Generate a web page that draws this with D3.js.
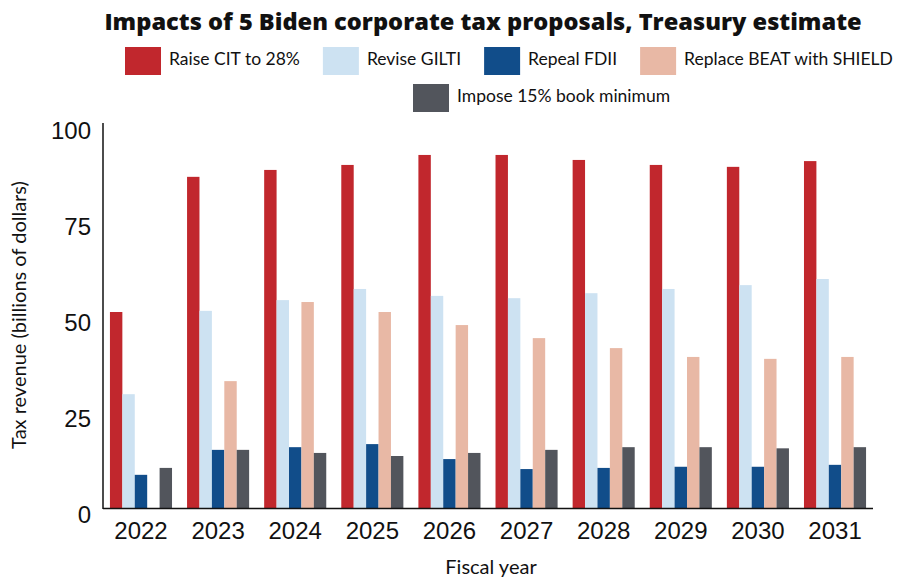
<!DOCTYPE html>
<html>
<head>
<meta charset="utf-8">
<script src="https://cdn.jsdelivr.net/npm/d3@7"></script>
<style>
  body { margin: 0; background: #fff; }
  svg { display: block; font-family: Lato, "Open Sans", sans-serif; }
</style>
</head>
<body>
<svg width="899" height="579"></svg>
<script>
const years = ['2022', '2023', '2024', '2025', '2026', '2027', '2028', '2029', '2030', '2031'];
const seriesNames = ['Raise CIT to 28%', 'Revise GILTI', 'Repeal FDII', 'Replace BEAT with SHIELD', 'Impose 15% book minimum'];
const seriesColors = ['#c1272d', '#cde2f2', '#114d8a', '#e8b8a5', '#52555c'];
const raiseCit = [51.3, 86.5, 88.3, 89.6, 92.2, 92.2, 90.9, 89.6, 89.1, 90.6];
const reviseGilti = [29.9, 51.6, 54.4, 57.3, 55.5, 54.9, 56.2, 57.3, 58.3, 59.9];
const repealFdii = [8.9, 15.4, 16.1, 16.9, 13.0, 10.4, 10.7, 11.0, 11.0, 11.5];
const replaceBeat = [0, 33.3, 53.9, 51.3, 47.9, 44.5, 41.9, 39.6, 39.1, 39.6];
const bookMin = [10.7, 15.4, 14.6, 13.8, 14.6, 15.4, 16.1, 16.1, 15.8, 16.1];
const yTicks = [0, 25, 50, 75, 100];

const seriesValues = [raiseCit, reviseGilti, repealFdii, replaceBeat, bookMin];
const rows = years.map((yr, i) => ({ year: yr, values: seriesValues.map((s, k) => ({ k, v: s[i] })) }));

const svg = d3.select('svg');

const x = d3.scaleBand()
  .domain(years)
  .range([103, 873])
  .paddingInner(0.195)
  .paddingOuter(0.09);
const x1 = d3.scaleBand()
  .domain(d3.range(seriesNames.length))
  .range([0, x.bandwidth()]);
const y = d3.scaleLinear()
  .domain([0, 100])
  .range([509, 125]);

// title
svg.append('text')
  .attr('x', 483)
  .attr('y', 30)
  .attr('text-anchor', 'middle')
  .attr('font-family', '"Open Sans", sans-serif')
  .attr('font-weight', 800)
  .attr('font-size', 23.6)
  .attr('fill', '#111')
  .text('Impacts of 5 Biden corporate tax proposals, Treasury estimate');

// bars
svg.append('g')
  .selectAll('g')
  .data(rows)
  .join('g')
  .attr('transform', d => `translate(${x(d.year)},0)`)
  .selectAll('rect')
  .data(d => d.values)
  .join('rect')
  .attr('x', d => x1(d.k))
  .attr('width', x1.bandwidth())
  .attr('y', d => y(d.v))
  .attr('height', d => y(0) - y(d.v))
  .attr('fill', d => seriesColors[d.k]);

// axes
const yAxis = svg.append('g')
  .attr('transform', 'translate(103,0)')
  .call(d3.axisLeft(y).tickValues(yTicks).tickSize(0).tickPadding(12));
yAxis.select('.domain').attr('d', `M0,${y(100) - 2}V${y(0)}`).attr('stroke', '#111').attr('stroke-width', 1.5);
yAxis.selectAll('text')
  .attr('font-size', 24)
  .attr('dy', '0.55em')
  .attr('fill', '#111');

const xAxis = svg.append('g')
  .attr('transform', `translate(0,${y(0) - 0.5})`)
  .call(d3.axisBottom(x).tickSize(0).tickPadding(13));
xAxis.select('.domain').attr('d', `M103,0H873`).attr('stroke', '#111').attr('stroke-width', 1.5);
xAxis.selectAll('text')
  .attr('font-size', 24)
  .attr('fill', '#111');

// axis titles
svg.append('text')
  .attr('transform', 'translate(26,315) rotate(-90)')
  .attr('text-anchor', 'middle')
  .attr('font-size', 20)
  .attr('fill', '#111')
  .text('Tax revenue (billions of dollars)');
svg.append('text')
  .attr('x', 491)
  .attr('y', 574)
  .attr('text-anchor', 'middle')
  .attr('font-size', 20)
  .attr('fill', '#111')
  .text('Fiscal year');

// legend: four items on the first row, the last one below
const legend = svg.append('g');
const rowStarts = [125, 413];
const rowTops = [47, 84];
let cx = rowStarts[0];
seriesNames.forEach((name, k) => {
  const row = k < 4 ? 0 : 1;
  if (k === 4) cx = rowStarts[1];
  const item = legend.append('g').attr('transform', `translate(${cx},${rowTops[row]})`);
  item.append('rect')
    .attr('width', 36)
    .attr('height', 28)
    .attr('fill', seriesColors[k]);
  const t = item.append('text')
    .attr('x', 44)
    .attr('y', 18)
    .attr('font-size', 17.5)
    .attr('fill', '#111')
    .text(name);
  cx += 44 + t.node().getComputedTextLength() + 23;
});
</script>
</body>
</html>
